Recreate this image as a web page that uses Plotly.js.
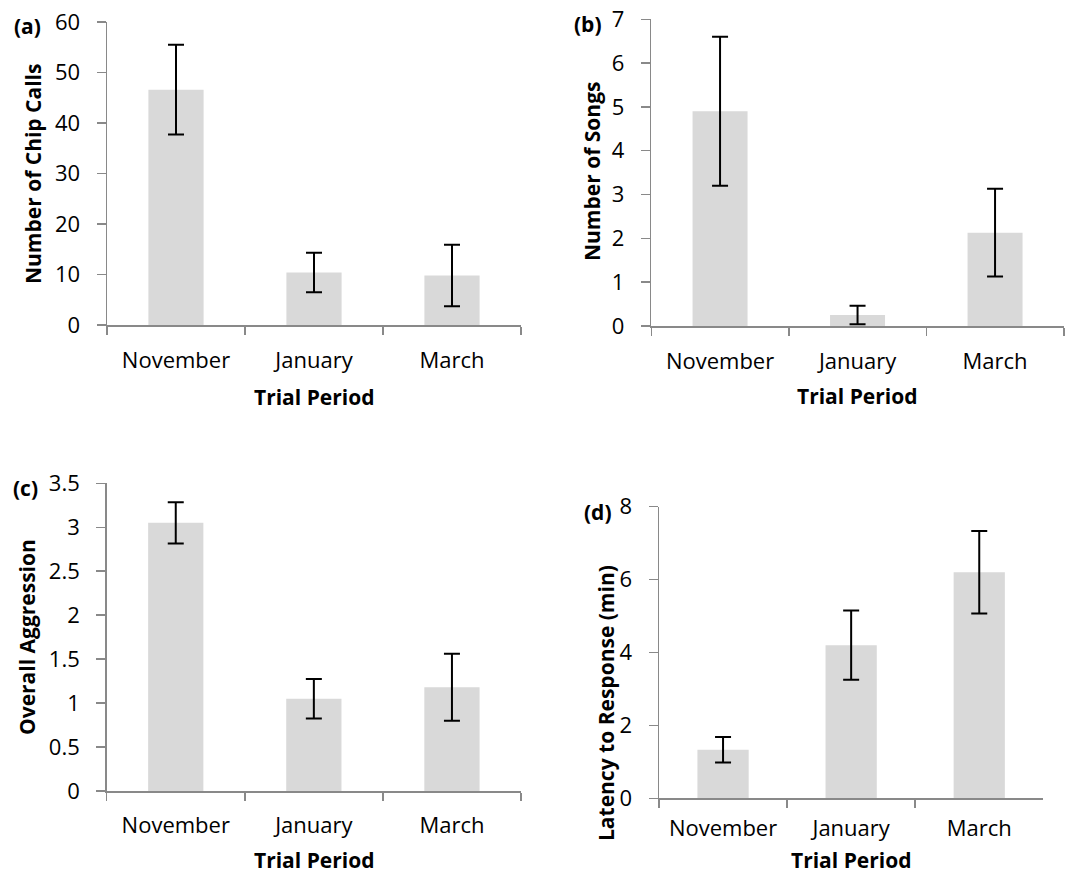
<!DOCTYPE html>
<html>
<head>
<meta charset="utf-8">
<script src="https://cdn.plot.ly/plotly-3.0.1.min.js"></script>
<style>html,body{margin:0;padding:0;background:#fff;}#chart{width:1068px;height:874px;}</style>
</head>
<body>
<div id="chart"></div>
<script>
// ---- data ----
var months = ['November', 'January', 'March'];
var chipCalls = [46.6, 10.4, 9.8];
var chipCallsErr = [8.9, 3.9, 6.1];
var songs = [4.9, 0.25, 2.13];
var songsErr = [1.7, 0.21, 1.0];
var aggression = [3.05, 1.05, 1.18];
var aggressionErr = [0.235, 0.225, 0.38];
var latency = [1.33, 4.2, 6.2];
var latencyErr = [0.35, 0.95, 1.13];
var yTitles = ['Number of Chip Calls', 'Number of Songs', 'Overall Aggression', 'Latency to Response (min)'];
var panelLabels = ['(a)', '(b)', '(c)', '(d)'];
var xTitle = 'Trial Period';

var W = 1068, H = 874;
var FONT = 'Open Sans, Noto Sans, sans-serif';
var AXC = '#898989';

function bar(y, err, xa, ya) {
  return {
    type: 'bar', x: months, y: y, xaxis: xa, yaxis: ya, width: 0.4,
    marker: {color: '#d9d9d9'},
    error_y: {type: 'data', array: err, visible: true, color: '#000', thickness: 2, width: 8},
    showlegend: false, hoverinfo: 'skip'
  };
}

var data = [
  bar(chipCalls, chipCallsErr, 'x', 'y'),
  bar(songs, songsErr, 'x2', 'y2'),
  bar(aggression, aggressionErr, 'x3', 'y3'),
  bar(latency, latencyErr, 'x4', 'y4')
];

// pixel boxes [left, right, top, bottom]
var boxes = [
  [107, 521, 22, 325],
  [651.3, 1063.8, 19.3, 326],
  [106.7, 521, 483.3, 791],
  [659, 1043.3, 506.7, 798.3]
];
var ranges = [[0, 60], [0, 7], [0, 3.5], [0, 8]];
var dticks = [10, 1, 0.5, 2];
var xStandoff = [15, 15, 14, 10];

function xax(b, anchor, so) {
  return {
    domain: [b[0] / W, b[1] / W], anchor: anchor, type: 'category', range: [-0.5, 2.5],
    showline: true, linecolor: AXC, linewidth: 1.5, ticks: 'outside', tickson: 'boundaries',
    ticklen: 8, tickcolor: AXC, tickwidth: 1.5, showgrid: false, zeroline: false,
    tickfont: {family: FONT, size: 22, color: '#000'}, ticklabelstandoff: so, fixedrange: true
  };
}
function yax(b, anchor, r, d) {
  return {
    domain: [1 - b[3] / H, 1 - b[2] / H], anchor: anchor, range: r, dtick: d, tick0: 0,
    showline: true, linecolor: AXC, linewidth: 1.5, ticks: 'outside', ticklen: 9,
    tickcolor: AXC, tickwidth: 1.5, showgrid: false, zeroline: false,
    tickfont: {family: FONT, size: 22, color: '#000'}, ticklabelstandoff: 12, fixedrange: true
  };
}

var layout = {
  width: W, height: H, margin: {l: 0, r: 0, t: 0, b: 0},
  paper_bgcolor: '#fff', plot_bgcolor: 'rgba(0,0,0,0)', showlegend: false,
  font: {family: FONT, color: '#000'},
  xaxis: xax(boxes[0], 'y', xStandoff[0]), yaxis: yax(boxes[0], 'x', ranges[0], dticks[0]),
  xaxis2: xax(boxes[1], 'y2', xStandoff[1]), yaxis2: yax(boxes[1], 'x2', ranges[1], dticks[1]),
  xaxis3: xax(boxes[2], 'y3', xStandoff[2]), yaxis3: yax(boxes[2], 'x3', ranges[2], dticks[2]),
  xaxis4: xax(boxes[3], 'y4', xStandoff[3]), yaxis4: yax(boxes[3], 'x4', ranges[3], dticks[3]),
  annotations: []
};

// annotation positions in px: [x, y]
var yTitlePos = [[33, 174], [592, 172], [27, 637], [606, 703]];
var xTitlePos = [[314, 397], [857, 396], [314, 860], [851, 860]];
var labelPos = [[27, 26], [588, 24], [25, 488], [598, 512]];

function ann(txt, p, angle) {
  return {
    text: txt, xref: 'paper', yref: 'paper', x: p[0] / W, y: 1 - p[1] / H,
    xanchor: 'center', yanchor: 'middle', showarrow: false, textangle: angle || 0,
    font: {family: FONT, size: 21, color: '#000', weight: 'bold'}
  };
}
for (var i = 0; i < 4; i++) {
  layout.annotations.push(ann('<b>' + yTitles[i] + '</b>', yTitlePos[i], -90));
  layout.annotations.push(ann('<b>' + xTitle + '</b>', xTitlePos[i], 0));
  layout.annotations.push(ann('<b>' + panelLabels[i] + '</b>', labelPos[i], 0));
}

Plotly.newPlot('chart', data, layout, {staticPlot: true, displayModeBar: false});
</script>
</body>
</html>
